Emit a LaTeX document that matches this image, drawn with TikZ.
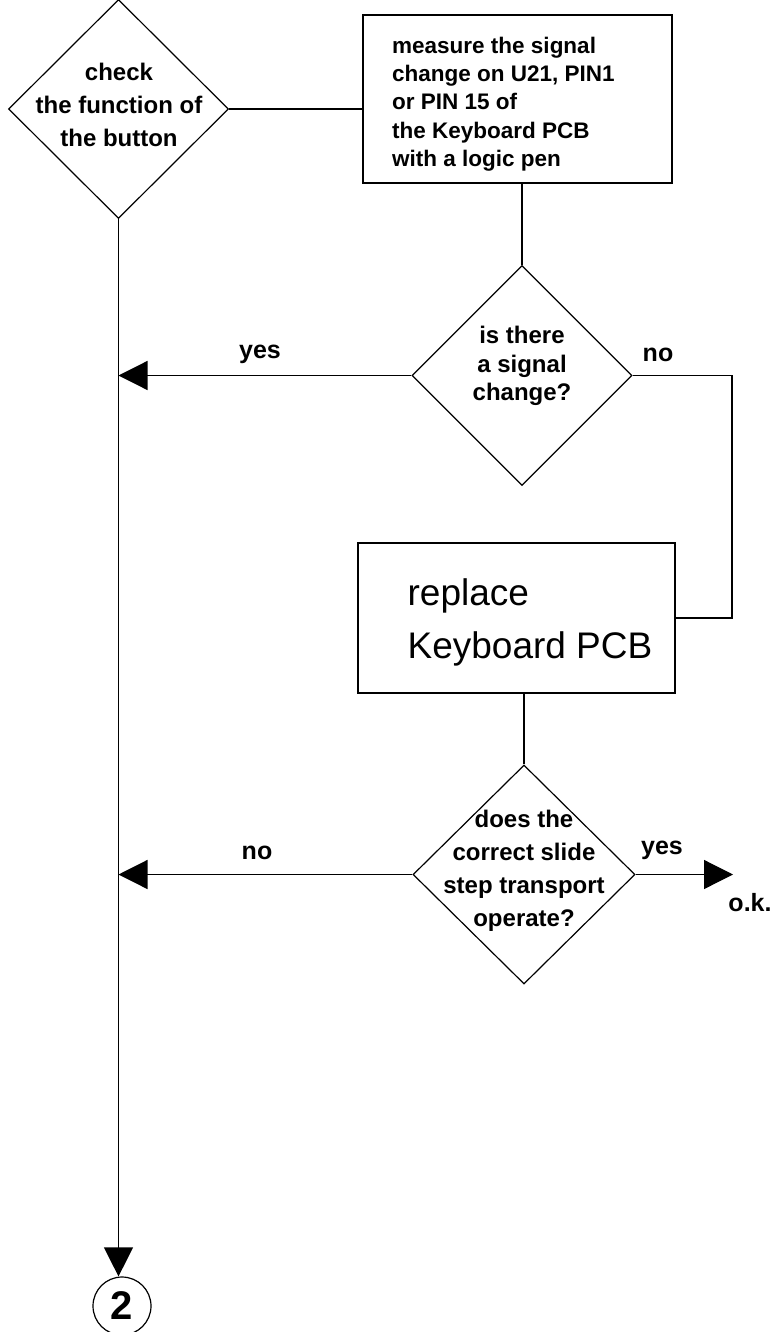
\documentclass[tikz,border=0pt]{standalone}
\usepackage{fontspec}
\setmainfont{Liberation Sans}
\usepackage{tikz}
\usetikzlibrary{arrows.meta,positioning,shapes.geometric,calc}
\tikzset{
  ln/.style={line width=1.2pt,black},
  ar/.style={ln,-{Triangle[length=29pt,width=29pt]}},
  decision/.style={diamond,draw,line width=1.2pt,inner sep=0pt,minimum width=220pt,minimum height=219pt},
  procbox/.style={draw,line width=1.2pt,inner sep=0pt},
  dtext/.style={align=center,inner sep=0pt,font=\bfseries\fontsize{24}{33}\selectfont},
  btext/.style={align=left,inner sep=0pt,anchor=west,font=\bfseries\fontsize{22.5}{28.25}\selectfont},
  lbl/.style={inner sep=0pt,font=\bfseries\fontsize{25}{30}\selectfont}
}
\begin{document}
\begin{tikzpicture}[x=1pt,y=-1pt]
\useasboundingbox (0,0) rectangle (777,1332);
% shapes
\node[decision] (chk) at (118.5,109) {};
\node[dtext] (chktxt) at (119,105) {check\\the function of\\the button};
\node[procbox,minimum width=309pt,minimum height=168pt] (meas) at (517.5,99) {};
\node[btext] (meastxt) at (392,104) {measure the signal\\change on U21, PIN1\\or PIN 15 of\\the Keyboard PCB\\with a logic pen};
\node[decision,minimum width=220pt,minimum height=220pt] (sig) at (522,375.5) {};
\node[dtext,font=\bfseries\fontsize{24}{28.5}\selectfont] (sigtxt) at (522,366) {is there\\a signal\\change?};
\node[procbox,minimum width=317pt,minimum height=150pt] (repl) at (516.5,618) {};
\node[align=left,inner sep=0pt,font=\fontsize{37}{53}\selectfont] (repltxt) at (530,622) {replace\\Keyboard PCB};
\node[decision,minimum width=222pt] (trn) at (524,874.5) {};
\node[dtext] (trntxt) at (524,871) {does the\\correct slide\\step transport\\operate?};
\node[circle,draw,line width=1.2pt,minimum size=58pt,inner sep=0pt,font=\bfseries\fontsize{40}{40}\selectfont] (two) at (122,1306) {2};
\coordinate (loopR) at (732,375.5);
\coordinate (ok) at (733,874.5);
% connectors
\draw[ln] (chk.east) -- (chk.east -| meas.west);
\draw[ln] (sig.north |- meas.south) -- (sig.north);
\draw[ar] (sig.west) -- (sig.west -| chk.south);
\draw[ln] (sig.east) -- (loopR) |- (repl.east);
\draw[ln] (trn.north |- repl.south) -- (trn.north);
\draw[ar] (trn.west) -- (trn.west -| chk.south);
\draw[ar] (trn.east) -- (ok);
\draw[ar] (chk.south) -- (chk.south |- two.north);
% labels
\node[lbl] (yes1) at (260,354) {yes};
\node[lbl] (no1) at (658,355) {no};
\node[lbl] (no2) at (257,853) {no};
\node[lbl] (yes2) at (662,850) {yes};
\node[lbl] (oktxt) at (750,903) {o.k.};
\end{tikzpicture}
\end{document}
